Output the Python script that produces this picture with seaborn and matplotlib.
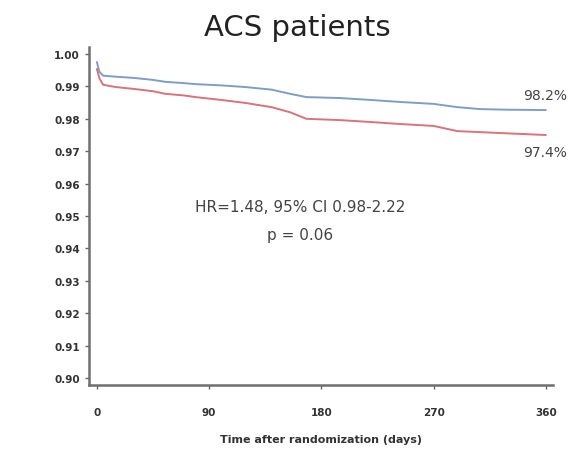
import pandas as pd
import matplotlib.pyplot as plt
import seaborn as sns

dias = [0, 2, 5, 15, 30, 45, 55, 70, 79, 100, 119, 140, 155, 168, 195, 220, 243, 270, 289, 307, 330, 360]
surv_azul = [0.9975, 0.9945, 0.9933, 0.9930, 0.9926, 0.9920, 0.9914, 0.9910, 0.9907, 0.9903, 0.9898,
             0.9890, 0.9877, 0.9867, 0.9864, 0.9858, 0.9852, 0.9846, 0.9836, 0.9830, 0.9828, 0.9827]
surv_vermelho = [0.9954, 0.9925, 0.9905, 0.9898, 0.9892, 0.9885, 0.9877, 0.9872, 0.9867, 0.9858, 0.9849,
                 0.9836, 0.9820, 0.9800, 0.9796, 0.9790, 0.9784, 0.9778, 0.9762, 0.9759, 0.9755, 0.9750]
grupos = ['A', 'B']
rotulos_finais = ['98.2%', '97.4%']
xticks = [0, 90, 180, 270, 360]
yticks = [0.90, 0.91, 0.92, 0.93, 0.94, 0.95, 0.96, 0.97, 0.98, 0.99, 1.00]

df = pd.DataFrame({
    'dias': dias + dias,
    'surv': surv_azul + surv_vermelho,
    'grupo': [grupos[0]] * len(dias) + [grupos[1]] * len(dias),
})

sns.set_style('ticks')
plt.rcParams['font.family'] = ['DejaVu Sans']

fig = plt.figure(figsize=(5.85, 4.6), dpi=100)
ax = fig.add_axes([0.152, 0.161, 0.793, 0.735])

cores = {'A': '#7f9ec6', 'B': '#d8737b'}
sns.lineplot(data=df, x='dias', y='surv', hue='grupo', palette=cores, legend=False,
             linewidth=1.4, ax=ax)

ax.set_xlim(-6.4, 365.6)
ax.set_ylim(0.8979, 1.0022)
ax.set_xticks(xticks)
ax.set_yticks(yticks)
ax.set_yticklabels([f"{v:.2f}" for v in yticks])
ax.tick_params(axis='both', labelsize=7.5, length=3, width=1, color='#666666', labelcolor='#333333')
ax.tick_params(axis='x', pad=13)
for lbl in ax.get_xticklabels() + ax.get_yticklabels():
    lbl.set_fontweight('bold')

for s in ['left', 'bottom']:
    ax.spines[s].set_color('#6f6f6f')
    ax.spines[s].set_linewidth(1.8)
sns.despine(ax=ax)

ax.set_xlabel('Time after randomization (days)', fontsize=8, fontweight='bold', color='#333333', labelpad=12)
ax.set_ylabel('')

# Rótulos das taxas finais
ax.text(377, 0.9873, rotulos_finais[0], ha='right', va='center', fontsize=10, color='#444444', clip_on=False)
ax.text(377, 0.9698, rotulos_finais[1], ha='right', va='center', fontsize=10, color='#444444', clip_on=False)

ax.text(163, 0.9528, 'HR=1.48, 95% CI 0.98-2.22', ha='center', va='center', fontsize=11, color='#444444')
ax.text(163, 0.9444, 'p = 0.06', ha='center', va='center', fontsize=11, color='#444444')

fig.text(0.508, 0.94, 'ACS patients', ha='center', va='center', fontsize=21, color='#222222')

fig.savefig('out.png', dpi=100)
